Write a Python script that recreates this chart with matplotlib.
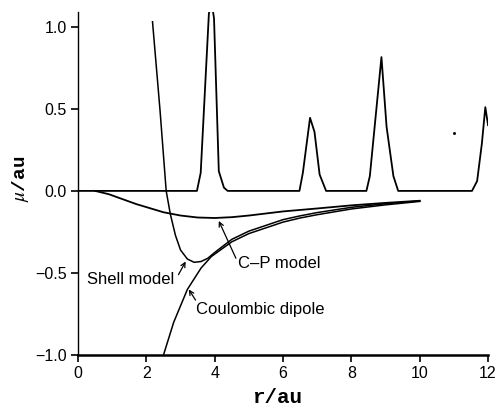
"""Dipole moment curves: shell model, C-P model and coulombic dipole vs r."""
import matplotlib
matplotlib.use('Agg')
from matplotlib import pyplot as plt

# density-like trace along the zero line (peaks)
peak_r = [0.0, 3.48, 3.59, 3.83, 3.91, 3.98, 4.12, 4.27, 4.38,
          6.48, 6.58, 6.79, 6.92, 7.07, 7.26,
          8.44, 8.54, 8.88, 9.03, 9.23, 9.37,
          11.53, 11.68, 11.82, 11.92, 12.0]
peak_mu = [0.0, 0.0, 0.11, 1.08, 1.15, 1.05, 0.12, 0.02, 0.0,
           0.0, 0.11, 0.445, 0.36, 0.10, 0.0,
           0.0, 0.09, 0.815, 0.39, 0.09, 0.0,
           0.0, 0.06, 0.29, 0.51, 0.40]

shell_r = [2.18, 2.4, 2.58, 2.7, 2.85, 3.0, 3.2, 3.4, 3.6, 3.8, 4.0,
           4.5, 5.0, 5.5, 6.0, 6.5, 7.0, 8.0, 9.0, 10.0]
shell_mu = [1.03, 0.49, 0.0, -0.14, -0.27, -0.36, -0.415, -0.435, -0.43, -0.41, -0.375,
            -0.295, -0.245, -0.21, -0.175, -0.152, -0.132, -0.10, -0.078, -0.061]

cp_r = [0.5, 0.9, 1.3, 1.7, 2.1, 2.5, 3.0, 3.5, 4.0, 4.5, 5.0, 6.0, 7.0, 8.0, 9.0, 10.0]
cp_mu = [0.0, -0.02, -0.05, -0.08, -0.105, -0.13, -0.15, -0.162, -0.165, -0.16,
         -0.15, -0.125, -0.107, -0.088, -0.073, -0.06]

coul_r = [2.5, 2.8, 3.2, 3.6, 3.9, 4.5, 5.0, 5.5, 6.0, 6.5, 7.0, 8.0, 9.0, 10.0]
coul_mu = [-1.0, -0.80, -0.60, -0.47, -0.40, -0.31, -0.26, -0.225, -0.19, -0.165,
           -0.145, -0.11, -0.085, -0.064]

speck_r = [11.0]
speck_mu = [0.35]

x_ticks = [0, 2, 4, 6, 8, 10, 12]
y_ticks = [-1.0, -0.5, 0.0, 0.5, 1.0]

plt.rcParams['mathtext.fontset'] = 'stix'

fig = plt.figure(figsize=(4.97, 4.11), dpi=100)
ax = fig.add_axes([0.157, 0.136, 0.825, 0.835])

ax.plot(peak_r, peak_mu, color='black', lw=1.3)
ax.plot(shell_r, shell_mu, color='black', lw=1.1)
ax.plot(cp_r, cp_mu, color='black', lw=1.3)
ax.plot(coul_r, coul_mu, color='black', lw=1.1)
ax.plot(speck_r, speck_mu, 's', color='black', ms=1.0)

ax.set_xlim(0, 12)
ax.set_ylim(-1.0, 1.09)
ax.set_xticks(x_ticks)
ax.set_yticks(y_ticks)
ax.set_xticklabels([str(t) for t in x_ticks])
ax.set_yticklabels(['\u22121.0', '\u22120.5', '0.0', '0.5', '1.0'])

for side in ['top', 'right']:
    ax.spines[side].set_visible(False)
ax.spines['bottom'].set_linewidth(1.8)
ax.spines['left'].set_linewidth(1.0)
ax.tick_params(direction='out', length=5, width=1.2, labelsize=11.5, pad=3)
for lab in ax.get_xticklabels() + ax.get_yticklabels():
    lab.set_fontfamily('Liberation Sans')

ax.set_xlabel('r/au', fontfamily='Liberation Mono', fontweight='bold', fontsize=15)
ax.xaxis.set_label_coords(0.485, -0.095)
ax.set_ylabel(r'$\mu$/au', fontfamily='Liberation Mono', fontweight='bold', fontsize=14)
ax.yaxis.set_label_coords(-0.115, 0.515)

arrow = dict(arrowstyle='->', lw=0.9, color='black', shrinkA=0, shrinkB=0, mutation_scale=8)
txt = dict(fontsize=12, fontfamily='Liberation Sans', ha='left', va='center')
ax.annotate('', xy=(3.15, -0.43), xytext=(2.94, -0.51), arrowprops=arrow)
ax.text(0.26, -0.54, 'Shell model', **txt)
ax.annotate('', xy=(4.12, -0.183), xytext=(4.62, -0.41), arrowprops=arrow)
ax.text(4.68, -0.445, 'C\u2013P model', **txt)
ax.annotate('', xy=(3.24, -0.60), xytext=(3.44, -0.665), arrowprops=arrow)
ax.text(3.44, -0.725, 'Coulombic dipole', **txt)

fig.savefig('out.png', dpi=100)
